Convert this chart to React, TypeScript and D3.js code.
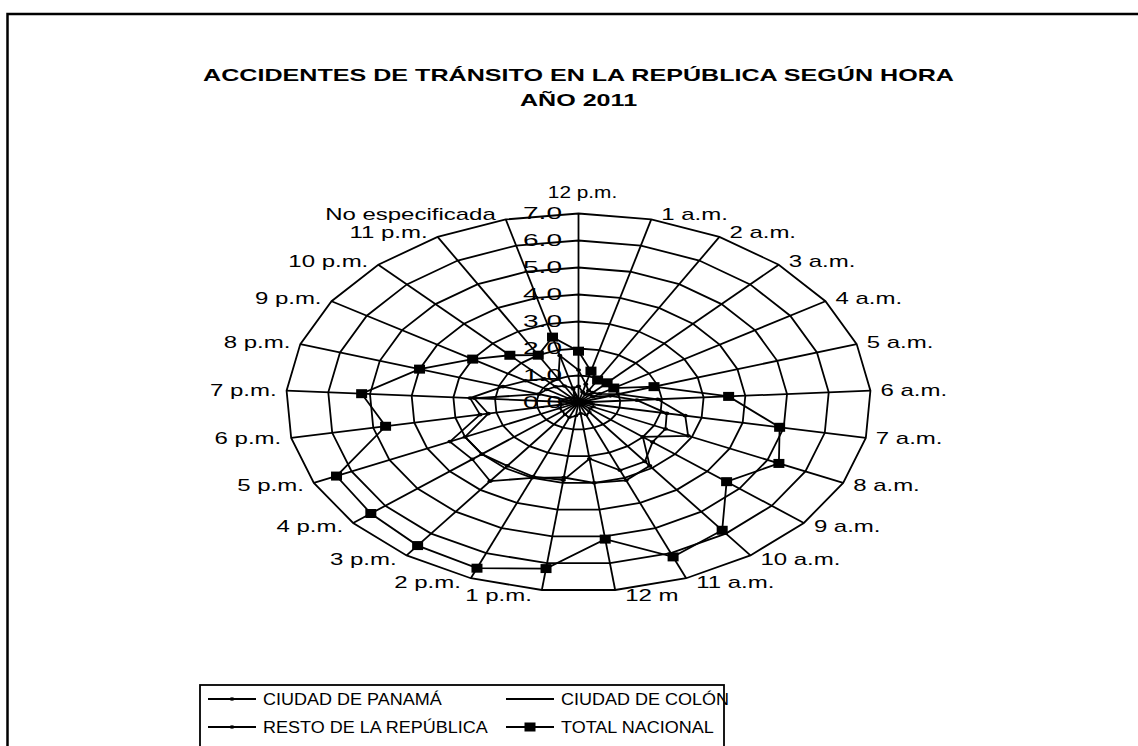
import React, { useRef, useEffect } from "react";
import * as d3 from "d3";

// categorias (horas) en el orden del grafico radial
const horas = [
  "12 p.m.", "1 a.m.", "2 a.m.", "3 a.m.", "4 a.m.", "5 a.m.", "6 a.m.",
  "7 a.m.", "8 a.m.", "9 a.m.", "10 a.m.", "11 a.m.", "12 m", "1 p.m.",
  "2 p.m.", "3 p.m.", "4 p.m.", "5 p.m.", "6 p.m.", "7 p.m.", "8 p.m.",
  "9 p.m.", "10 p.m.", "11 p.m.", "No especificada",
];

// porcentajes
const ciudadPanama = [
  1.2, 0.7, 0.5, 0.5, 0.6, 1.0, 1.9, 2.6, 2.9, 2.0, 2.9, 3.1, 3.0, 2.8,
  3.0, 3.6, 3.3, 3.4, 2.4, 2.6, 1.9, 1.5, 1.2, 1.0, 1.8,
];
const ciudadColon = [
  0.15, 0.1, 0.08, 0.1, 0.1, 0.2, 0.3, 0.35, 0.4, 0.35, 0.45, 0.5, 0.4,
  0.5, 0.6, 0.55, 0.5, 0.5, 0.4, 0.45, 0.35, 0.3, 0.25, 0.2, 0.5,
];
const restoRepublica = [
  0.6, 0.4, 0.35, 0.4, 0.4, 0.8, 1.4, 2.15, 2.3, 2.3, 2.7, 2.7, 2.1, 2.9,
  2.95, 2.9, 3.0, 3.0, 2.2, 2.5, 1.0, 0.9, 0.8, 0.7, 0.55,
];
const totalNacional = [
  1.9, 1.2, 0.95, 1.0, 1.0, 1.9, 3.6, 4.9, 5.3, 4.6, 5.85, 6.15, 5.1, 6.2,
  6.6, 6.55, 6.45, 6.4, 4.7, 5.2, 4.0, 3.0, 2.4, 2.0, 2.5,
];

const ticks = [0, 1, 2, 3, 4, 5, 6, 7];
const tickLabels = ["0.0", "1.0", "2.0", "3.0", "4.0", "5.0", "6.0", "7.0"];

const titulo1 = "ACCIDENTES DE TRÁNSITO EN LA REPÚBLICA SEGÚN HORA";
const titulo2 = "AÑO 2011";

const App = () => {
  const d3Container = useRef(null);

  useEffect(() => {
    if (!d3Container.current) return;
    const svg = d3.select(d3Container.current);
    svg.selectAll("*").remove();

    const font = "'Liberation Sans', Arial, sans-serif";
    const cx = 578.5;
    const cy = 402.5;
    const rx = 292.5;
    const ry = 189;

    const rScale = d3.scaleLinear().domain([0, 7]).range([0, 1]);
    const aScale = d3
      .scaleLinear()
      .domain([0, horas.length])
      .range([0, 2 * Math.PI]);

    const pt = (i, v) => {
      const a = aScale(i);
      return [
        cx + rx * rScale(v) * Math.sin(a),
        cy - ry * rScale(v) * Math.cos(a),
      ];
    };

    // el grafico original esta estirado a lo ancho, el texto tambien
    const addText = (g, x, y, str, anchor, size, sx, weight) =>
      g
        .append("text")
        .attr("transform", `translate(${x},${y}) scale(${sx},1)`)
        .attr("text-anchor", anchor)
        .attr("dy", "0.35em")
        .attr("font-family", font)
        .attr("font-size", size)
        .attr("font-weight", weight || "normal")
        .attr("fill", "#000")
        .text(str);

    // marco exterior
    svg
      .append("rect")
      .attr("x", 7.5)
      .attr("y", 14)
      .attr("width", 1300)
      .attr("height", 900)
      .attr("fill", "#fff")
      .attr("stroke", "#000")
      .attr("stroke-width", 2.5);

    // titulo
    addText(svg, cx, 75, titulo1, "middle", 16, 1.57, "bold");
    addText(svg, cx, 100, titulo2, "middle", 16, 1.57, "bold");

    const grid = svg.append("g");
    const closedLine = d3.line().curve(d3.curveLinearClosed);

    ticks.slice(1).forEach((t) => {
      grid
        .append("path")
        .attr("d", closedLine(horas.map((h, i) => pt(i, t))))
        .attr("fill", "none")
        .attr("stroke", "#000")
        .attr("stroke-width", 1.8);
    });

    horas.forEach((h, i) => {
      const [x2, y2] = pt(i, 7);
      grid
        .append("line")
        .attr("x1", cx)
        .attr("y1", cy)
        .attr("x2", x2)
        .attr("y2", y2)
        .attr("stroke", "#000")
        .attr("stroke-width", 1.8);
    });

    // etiquetas de categorias
    horas.forEach((h, i) => {
      const a = aScale(i);
      const s = Math.sin(a);
      const [px, py] = pt(i, 7);
      if (Math.abs(s) < 0.05) {
        addText(svg, px + 4, py - 21, h, "middle", 16, 1.3);
      } else {
        const anchor = s > 0 ? "start" : "end";
        addText(svg, px + (s > 0 ? 10 : -10), py - Math.cos(a) * 5, h, anchor, 16, 1.5);
      }
    });

    // series
    const series = [
      { data: ciudadPanama, marker: "dot" },
      { data: restoRepublica, marker: "dot" },
      { data: ciudadColon, marker: "dash" },
      { data: totalNacional, marker: "square" },
    ];

    series.forEach((s) => {
      const pts = s.data.map((v, i) => pt(i, v));
      svg
        .append("path")
        .attr("d", closedLine(pts))
        .attr("fill", "none")
        .attr("stroke", "#000")
        .attr("stroke-width", 1.8);

      const mk = svg.append("g");
      pts.forEach(([x, y]) => {
        if (s.marker === "square") {
          mk.append("rect")
            .attr("x", x - 5.5)
            .attr("y", y - 4.5)
            .attr("width", 11)
            .attr("height", 9)
            .attr("fill", "#000");
        } else if (s.marker === "dot") {
          mk.append("ellipse")
            .attr("cx", x)
            .attr("cy", y)
            .attr("rx", 2.6)
            .attr("ry", 1.8)
            .attr("fill", "#000");
        } else {
          mk.append("rect")
            .attr("x", x - 2)
            .attr("y", y - 1)
            .attr("width", 4)
            .attr("height", 2)
            .attr("fill", "#000");
        }
      });
    });

    // etiquetas del eje radial
    ticks.forEach((t, k) => {
      const y = cy - ry * rScale(t);
      addText(svg, 562, y, tickLabels[k], "end", 17, 1.65);
    });

    // leyenda
    const legend = svg.append("g");
    legend
      .append("rect")
      .attr("x", 200)
      .attr("y", 685)
      .attr("width", 524)
      .attr("height", 100)
      .attr("fill", "#fff")
      .attr("stroke", "#000")
      .attr("stroke-width", 1.8);

    const items = [
      { name: "CIUDAD DE PANAMÁ", marker: "dot", x: 208, y: 699 },
      { name: "CIUDAD DE COLÓN", marker: "dash", x: 506, y: 699 },
      { name: "RESTO DE LA REPÚBLICA", marker: "dot", x: 208, y: 727 },
      { name: "TOTAL NACIONAL", marker: "square", x: 506, y: 727 },
    ];
    items.forEach((it) => {
      legend
        .append("line")
        .attr("x1", it.x)
        .attr("x2", it.x + 48)
        .attr("y1", it.y)
        .attr("y2", it.y)
        .attr("stroke", "#000")
        .attr("stroke-width", 1.8);
      const mx = it.x + 24;
      if (it.marker === "square") {
        legend.append("rect").attr("x", mx - 5.5).attr("y", it.y - 4.5)
          .attr("width", 11).attr("height", 9).attr("fill", "#000");
      } else if (it.marker === "dot") {
        legend.append("ellipse").attr("cx", mx).attr("cy", it.y)
          .attr("rx", 2.6).attr("ry", 1.8).attr("fill", "#000");
      } else {
        legend.append("rect").attr("x", mx - 2).attr("y", it.y - 1)
          .attr("width", 4).attr("height", 2).attr("fill", "#000");
      }
      addText(legend, it.x + 55, it.y, it.name, "start", 17, 1.06);
    });
  }, []);

  return (
    <div style={{ position: "absolute", left: 0, top: 0 }}>
      <svg ref={d3Container} width={1138} height={746} style={{ display: "block" }} />
    </div>
  );
};

export default App;
